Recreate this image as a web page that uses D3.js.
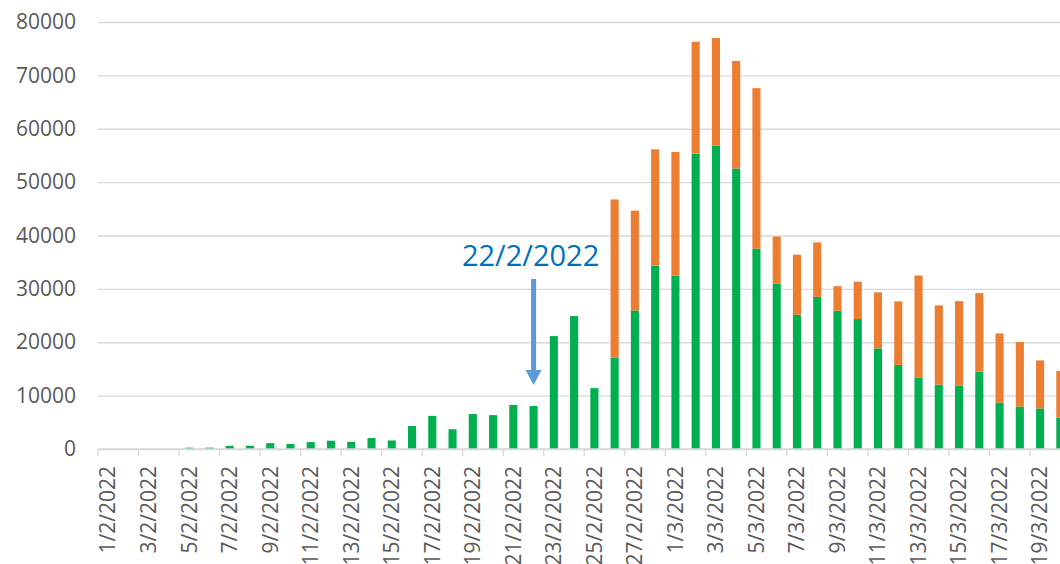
<!DOCTYPE html>
<html>
<head>
<meta charset="utf-8">
<script src="https://cdn.jsdelivr.net/npm/d3@7"></script>
<style>
  body { margin: 0; background: #fff; }
  svg { display: block; }
</style>
</head>
<body>
<div id="chart"></div>
<script>
// data
var days = [
  "1/2/2022", "2/2/2022", "3/2/2022", "4/2/2022", "5/2/2022", "6/2/2022", "7/2/2022", "8/2/2022",
  "9/2/2022", "10/2/2022", "11/2/2022", "12/2/2022", "13/2/2022", "14/2/2022", "15/2/2022", "16/2/2022",
  "17/2/2022", "18/2/2022", "19/2/2022", "20/2/2022", "21/2/2022", "22/2/2022", "23/2/2022", "24/2/2022",
  "25/2/2022", "26/2/2022", "27/2/2022", "28/2/2022", "1/3/2022", "2/3/2022", "3/3/2022", "4/3/2022",
  "5/3/2022", "6/3/2022", "7/3/2022", "8/3/2022", "9/3/2022", "10/3/2022", "11/3/2022", "12/3/2022",
  "13/3/2022", "14/3/2022", "15/3/2022", "16/3/2022", "17/3/2022", "18/3/2022", "19/3/2022", "20/3/2022"
];
var green = [
  0, 0, 0, 0, 250, 250, 600, 600,
  1100, 950, 1300, 1550, 1350, 2050, 1600, 4300,
  6200, 3700, 6550, 6350, 8250, 8050, 21150, 24900,
  11400, 17100, 25950, 34350, 32450, 55350, 56850, 52550,
  37550, 30980, 25150, 28500, 25900, 24350, 18850, 15750,
  13400, 12050, 11900, 14500, 8700, 7950, 7600, 5900
];
var orange = [
  0, 0, 0, 0, 0, 0, 0, 0,
  0, 0, 0, 0, 0, 0, 0, 0,
  0, 0, 0, 0, 0, 0, 0, 0,
  0, 29650, 18700, 21800, 23200, 20950, 20150, 20150,
  30050, 8820, 11250, 10200, 4600, 7000, 10500, 11900,
  19100, 14850, 15800, 14700, 12950, 12100, 9000, 8750
];
var yTicks = [0, 10000, 20000, 30000, 40000, 50000, 60000, 70000, 80000];
var markDay = "22/2/2022";

var W = 1060, H = 564;
var x0 = 98, y0 = 449, yTop = 22;

var svg = d3
  .select("#chart")
  .append("svg")
  .attr("width", W)
  .attr("height", H);

var x = d3
  .scaleBand()
  .domain(days)
  .range([x0, x0 + 48 * 20.26])
  .paddingInner(0.6)
  .paddingOuter(0.3);

var y = d3.scaleLinear().domain([0, 80000]).range([y0, yTop]);

var step = x.step();

// gridlines + y labels
var yAxis = svg
  .append("g")
  .attr("transform", "translate(" + x0 + ",0)")
  .call(d3.axisLeft(y).tickValues(yTicks).tickSize(-(W - x0)).tickPadding(22).tickFormat(d3.format("d")));
yAxis.select(".domain").remove();
yAxis
  .selectAll(".tick line")
  .attr("stroke", "#d9d9d9")
  .attr("stroke-width", 1.3);
yAxis
  .selectAll(".tick text")
  .attr("fill", "#595959")
  .attr("font-size", "21px")
  .attr("font-family", "'Open Sans', sans-serif");

// stacked bars
var rows = days.map(function (d, i) {
  return { day: d, green: green[i], orange: orange[i] };
});
var stack = d3.stack().keys(["green", "orange"])(rows);
var colors = { green: "#00B050", orange: "#ED7D31" };

svg
  .append("g")
  .selectAll("g")
  .data(stack)
  .enter()
  .append("g")
  .attr("fill", function (s) {
    return colors[s.key];
  })
  .selectAll("rect")
  .data(function (s) {
    return s;
  })
  .enter()
  .append("rect")
  .attr("x", function (d) {
    return x(d.data.day);
  })
  .attr("y", function (d) {
    return y(d[1]);
  })
  .attr("width", x.bandwidth())
  .attr("height", function (d) {
    return Math.max(0, y(d[0]) - y(d[1]));
  });

// x axis line
svg
  .append("line")
  .attr("x1", x0)
  .attr("x2", W)
  .attr("y1", y0)
  .attr("y2", y0)
  .attr("stroke", "#d9d9d9")
  .attr("stroke-width", 1.5);

// tick marks every two days, on category boundaries
var labelDays = days.filter(function (d, i) {
  return i % 2 == 0;
});
svg
  .append("g")
  .selectAll("line")
  .data(labelDays)
  .enter()
  .append("line")
  .attr("x1", function (d) {
    return x(d) - (step - x.bandwidth()) / 2;
  })
  .attr("x2", function (d) {
    return x(d) - (step - x.bandwidth()) / 2;
  })
  .attr("y1", y0)
  .attr("y2", y0 + 7)
  .attr("stroke", "#d9d9d9")
  .attr("stroke-width", 1.3);

// rotated date labels
var xAxis = svg
  .append("g")
  .attr("transform", "translate(0," + y0 + ")")
  .call(d3.axisBottom(x).tickValues(labelDays).tickSize(0));
xAxis.select(".domain").remove();
xAxis
  .selectAll(".tick text")
  .attr("transform", "rotate(-90)")
  .attr("x", -17)
  .attr("y", 0)
  .attr("dy", "0.35em")
  .style("text-anchor", "end")
  .attr("fill", "#595959")
  .attr("font-size", "21px")
  .attr("font-family", "'Open Sans', sans-serif");

// annotation: arrow pointing at 22/2
var ax = x(markDay) + x.bandwidth() / 2;
svg
  .append("rect")
  .attr("x", ax - 2.5)
  .attr("y", 279)
  .attr("width", 5)
  .attr("height", 92)
  .attr("fill", "#5B9BD5");
svg
  .append("path")
  .attr("d", "M" + (ax - 8) + ",370 L" + (ax + 8) + ",370 L" + ax + ",385 Z")
  .attr("fill", "#5B9BD5");

svg
  .append("text")
  .attr("x", ax - 3)
  .attr("y", 265.5)
  .attr("text-anchor", "middle")
  .attr("fill", "#0070C0")
  .attr("font-size", "29px")
  .attr("font-family", "'Open Sans', sans-serif")
  .text(markDay);
</script>
</body>
</html>
